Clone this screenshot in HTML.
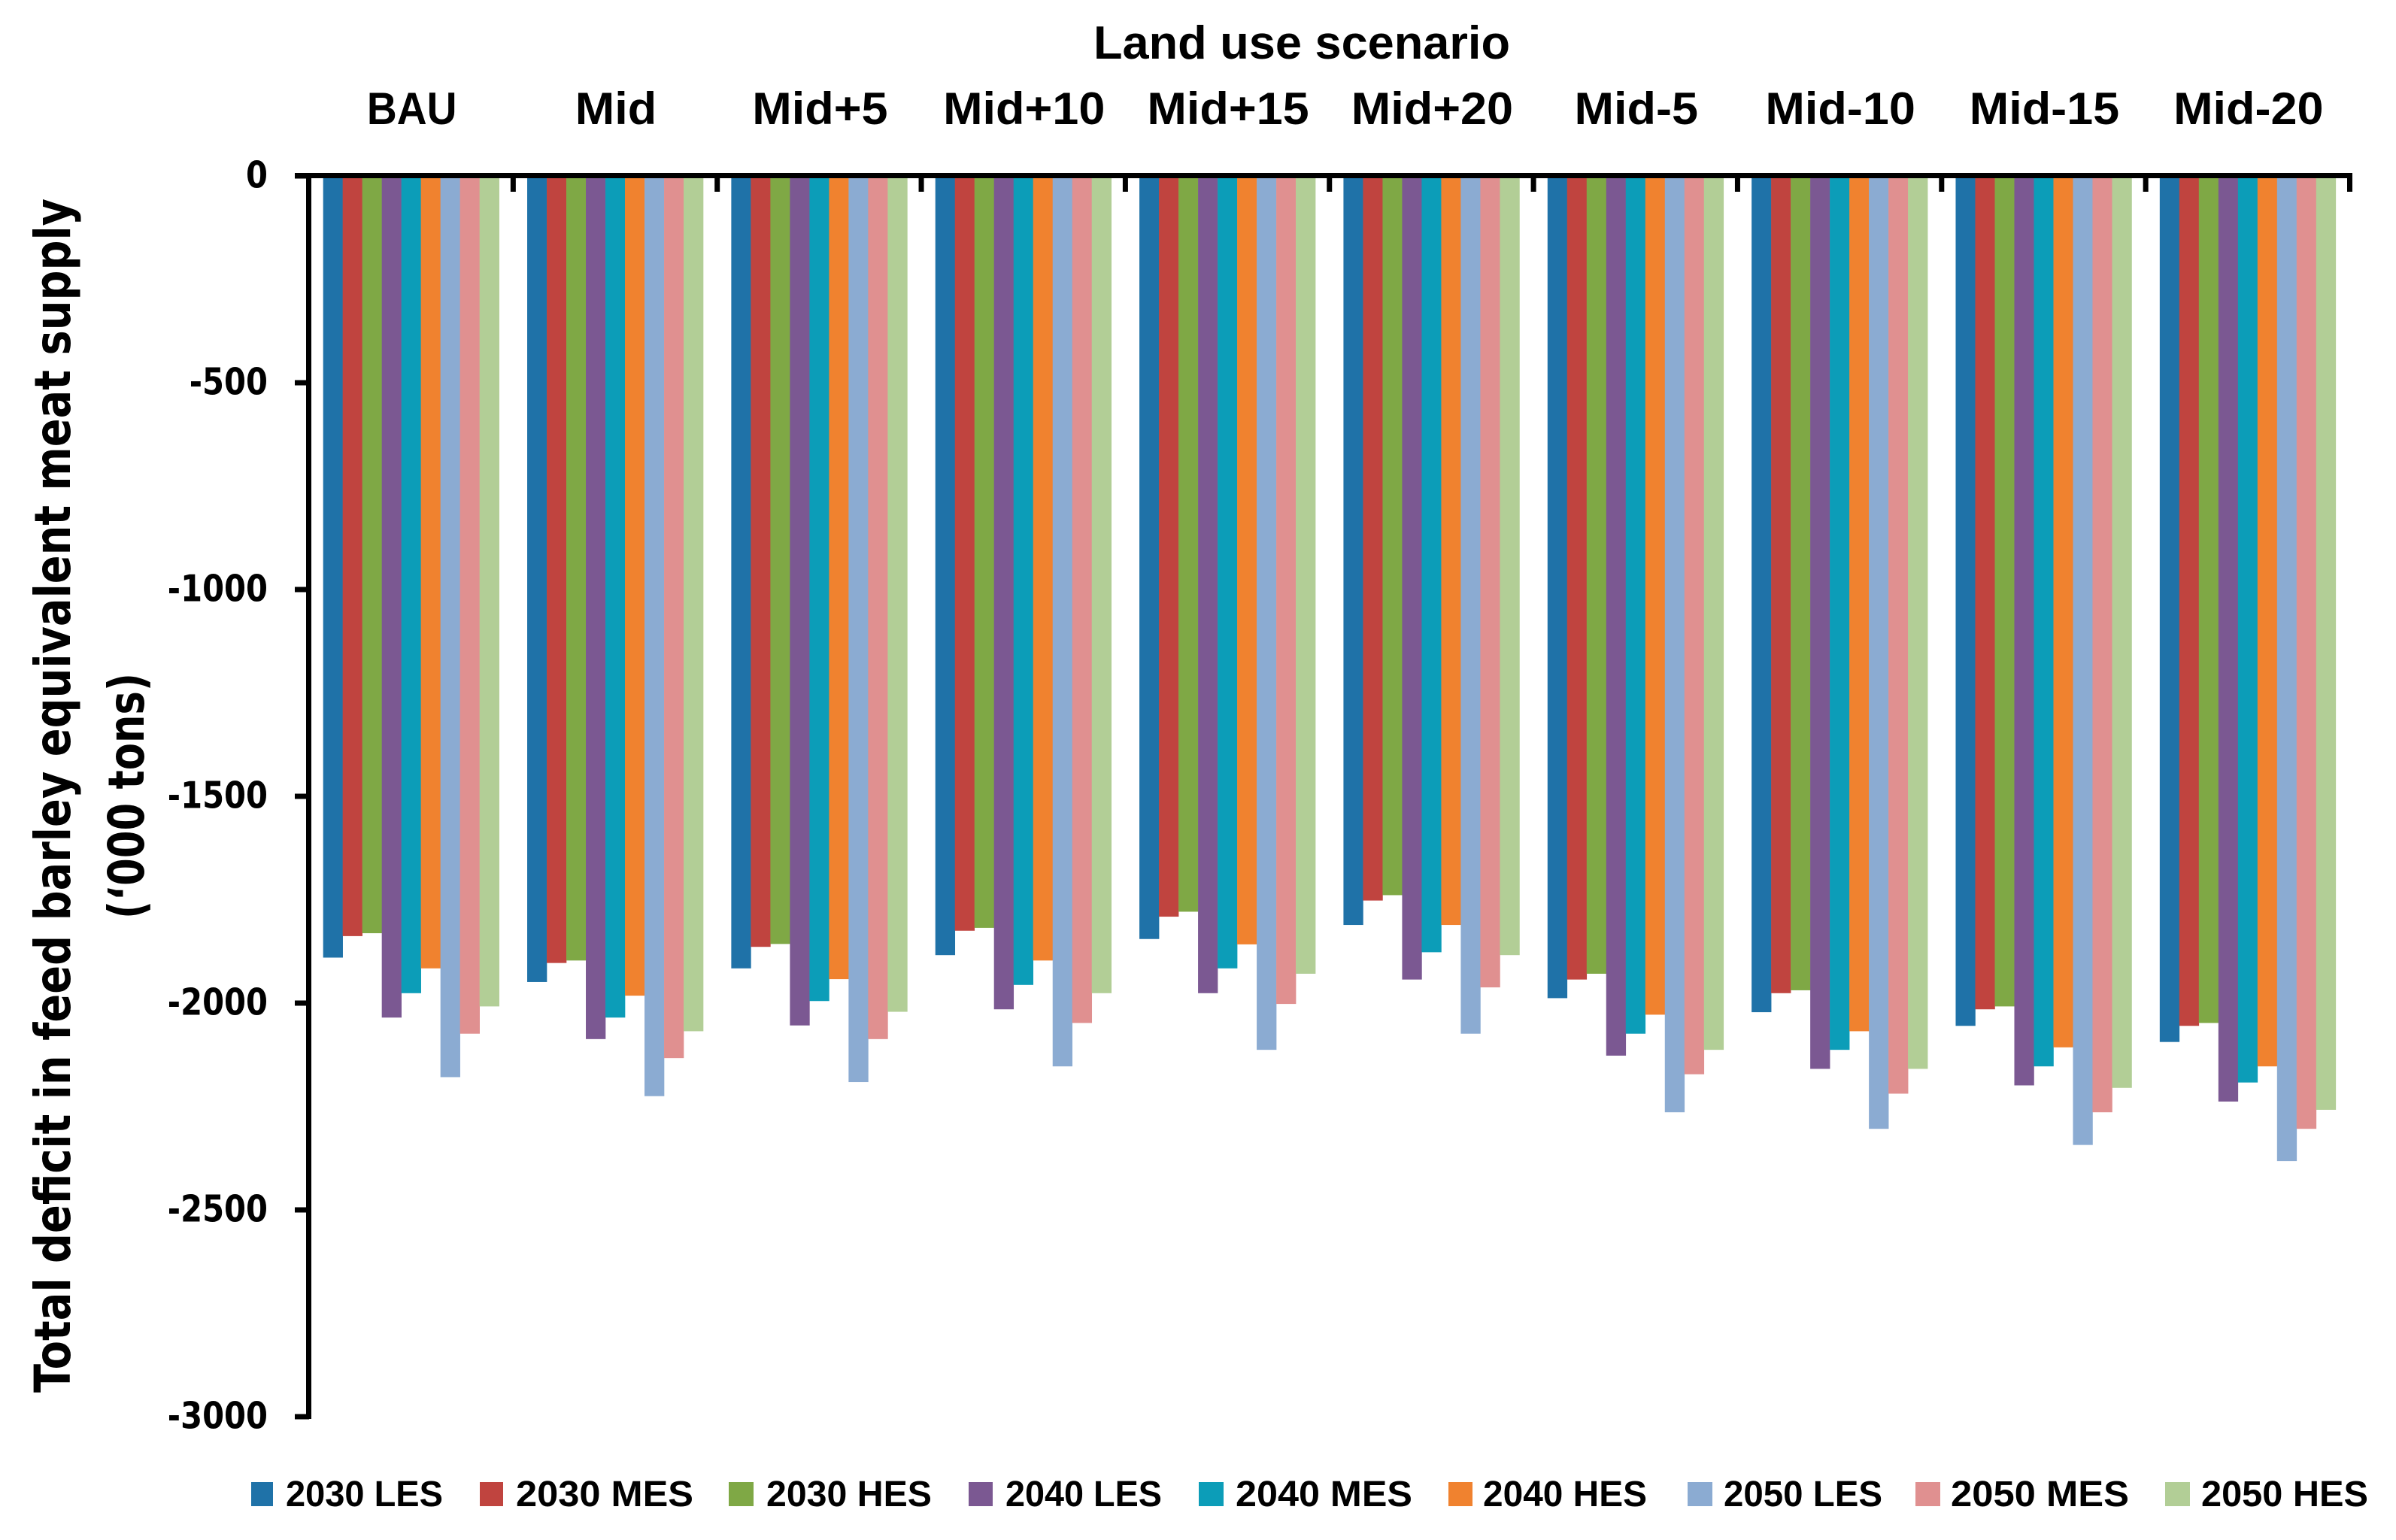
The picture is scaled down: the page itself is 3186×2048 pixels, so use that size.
<!DOCTYPE html>
<html lang="en">
<head>
<meta charset="utf-8">
<title>Total deficit in feed barley equivalent meat supply</title>
<style>
html,body{margin:0;padding:0;background:#fff;}
svg{display:block;}
.lab{font-family:"Liberation Sans",sans-serif;font-weight:bold;fill:#000;}
.dj{font-family:"DejaVu Sans","Liberation Sans",sans-serif;font-weight:bold;fill:#000;}
</style>
</head>
<body>
<svg id="chart" xmlns="http://www.w3.org/2000/svg" width="3186" height="2048" viewBox="0 0 3186 2048">
  <rect x="0" y="0" width="3186" height="2048" fill="#ffffff"/>
  <g id="bars"></g>
  <g id="axes"></g>
  <g id="labels"></g>

  <text class="lab" x="1454" y="78" font-size="62" textLength="554" lengthAdjust="spacingAndGlyphs">Land use scenario</text>

  <text class="dj" transform="translate(93,1058) rotate(-90)" x="-794" y="0" font-size="66" textLength="1588" lengthAdjust="spacingAndGlyphs">Total deficit in feed barley equivalent meat supply</text>
  <text class="dj" transform="translate(191,1058) rotate(-90)" x="-164" y="0" font-size="66" textLength="327" lengthAdjust="spacingAndGlyphs">(‘000 tons)</text>

  <g>
    <g>
      <rect x="334" y="1971" width="29" height="32" fill="#1f72a8"/>
      <text class="lab" x="380" y="2003" font-size="48" textLength="209" lengthAdjust="spacingAndGlyphs">2030 LES</text>
    </g>
    <g>
      <rect x="638" y="1971" width="31" height="32" fill="#c0443f"/>
      <text class="lab" x="686" y="2003" font-size="48" textLength="236" lengthAdjust="spacingAndGlyphs">2030 MES</text>
    </g>
    <g>
      <rect x="969" y="1971" width="33" height="32" fill="#7fa845"/>
      <text class="lab" x="1019" y="2003" font-size="48" textLength="220" lengthAdjust="spacingAndGlyphs">2030 HES</text>
    </g>
    <g>
      <rect x="1288" y="1971" width="32" height="32" fill="#7b5892"/>
      <text class="lab" x="1337" y="2003" font-size="48" textLength="208" lengthAdjust="spacingAndGlyphs">2040 LES</text>
    </g>
    <g>
      <rect x="1594" y="1971" width="33" height="32" fill="#0c9db8"/>
      <text class="lab" x="1643" y="2003" font-size="48" textLength="235" lengthAdjust="spacingAndGlyphs">2040 MES</text>
    </g>
    <g>
      <rect x="1926" y="1971" width="32" height="32" fill="#f0822f"/>
      <text class="lab" x="1972" y="2003" font-size="48" textLength="218" lengthAdjust="spacingAndGlyphs">2040 HES</text>
    </g>
    <g>
      <rect x="2244" y="1971" width="33" height="32" fill="#8babd2"/>
      <text class="lab" x="2292" y="2003" font-size="48" textLength="211" lengthAdjust="spacingAndGlyphs">2050 LES</text>
    </g>
    <g>
      <rect x="2547" y="1971" width="33" height="32" fill="#e09090"/>
      <text class="lab" x="2594" y="2003" font-size="48" textLength="237" lengthAdjust="spacingAndGlyphs">2050 MES</text>
    </g>
    <g>
      <rect x="2879" y="1971" width="33" height="32" fill="#b2ce96"/>
      <text class="lab" x="2927" y="2003" font-size="48" textLength="222" lengthAdjust="spacingAndGlyphs">2050 HES</text>
    </g>
  </g>
</svg>
<script>
const categories = ["BAU","Mid","Mid+5","Mid+10","Mid+15","Mid+20","Mid-5","Mid-10","Mid-15","Mid-20"];
const yTicks = [0,-500,-1000,-1500,-2000,-2500,-3000];
const seriesNames = ["2030 LES","2030 MES","2030 HES","2040 LES","2040 MES","2040 HES","2050 LES","2050 MES","2050 HES"];
const seriesColors = ["#1f72a8","#c0443f","#7fa845","#7b5892","#0c9db8","#f0822f","#8babd2","#e09090","#b2ce96"];
const les2030 = [-1890,-1949,-1916,-1884,-1845,-1811,-1988,-2022,-2055,-2094];
const mes2030 = [-1838,-1903,-1864,-1825,-1791,-1752,-1943,-1976,-2015,-2055];
const hes2030 = [-1831,-1897,-1857,-1818,-1779,-1739,-1929,-1969,-2008,-2048];
const les2040 = [-2035,-2087,-2054,-2015,-1976,-1943,-2127,-2159,-2199,-2238];
const mes2040 = [-1976,-2035,-1995,-1956,-1916,-1877,-2074,-2113,-2153,-2192];
const hes2040 = [-1916,-1982,-1942,-1897,-1858,-1811,-2028,-2068,-2107,-2153];
const les2050 = [-2179,-2225,-2191,-2153,-2113,-2074,-2264,-2304,-2343,-2382];
const mes2050 = [-2074,-2133,-2087,-2048,-2002,-1962,-2172,-2219,-2264,-2304];
const hes2050 = [-2008,-2068,-2021,-1976,-1929,-1884,-2113,-2159,-2205,-2258];
const seriesValues = [les2030,mes2030,hes2030,les2040,mes2040,hes2040,les2050,mes2050,hes2050];

const SVGNS = "http://www.w3.org/2000/svg";
const plotLeft = 411, plotRight = 3124.5, zeroY = 234, pxPerUnit = 0.55;
const bandW = (plotRight - plotLeft) / categories.length;
const barW = 26, groupPad = (bandW - barW * seriesNames.length) / 2;

function yScale(v) { return zeroY - v * pxPerUnit; }
function bandX(i) { return plotLeft + bandW * i; }
function barX(i, s) { return bandX(i) + groupPad + barW * s; }

function make(tag, attrs, parent) {
  const el = document.createElementNS(SVGNS, tag);
  for (const k in attrs) el.setAttribute(k, attrs[k]);
  parent.appendChild(el);
  return el;
}

const barsG = document.getElementById('bars');
const axesG = document.getElementById('axes');
const labelsG = document.getElementById('labels');

seriesValues.forEach(function (vals, s) {
  const g = make('g', {fill: seriesColors[s]}, barsG);
  
  
  vals.forEach(function (v, i) {
    const top = yScale(0), bottom = yScale(v);
    const r = make('rect', {x: barX(i, s), y: top, width: barW + 0.3, height: bottom - top}, g);
    
    
  });
});

const xAxis = make('rect', {x: 392, y: zeroY - 4, width: plotRight + 3.5 - 392, height: 7, fill: '#000'}, axesG);



const yAxis = make('rect', {x: plotLeft - 4, y: zeroY - 4, width: 7, height: yScale(yTicks[yTicks.length - 1]) - zeroY + 7, fill: '#000'}, axesG);



yTicks.forEach(function (t) {
  const y = yScale(t);
  const tick = make('rect', {x: 392, y: y - 3.5, width: plotLeft - 392, height: 7, fill: '#000'}, axesG);
  
  
  const label = make('text', {class: 'dj', 'font-size': 49, 'text-anchor': 'end', transform: 'translate(356,' + (y + 15.5) + ') scale(0.85,1)'}, labelsG);
  label.textContent = String(t);
  
  
});

categories.forEach(function (c, i) {
  const tick = make('rect', {x: bandX(i + 1) - 3.5, y: zeroY, width: 7, height: 21, fill: '#000'}, axesG);
  
  
  const stretch = c === 'BAU' ? 0.92 : 1.05;
  const label = make('text', {class: 'lab', 'font-size': 60, 'text-anchor': 'middle', transform: 'translate(' + (bandX(i) + bandW / 2 + 1) + ',165) scale(' + stretch + ',1)'}, labelsG);
  label.textContent = c;
  
  
});
</script>
</body>
</html>
